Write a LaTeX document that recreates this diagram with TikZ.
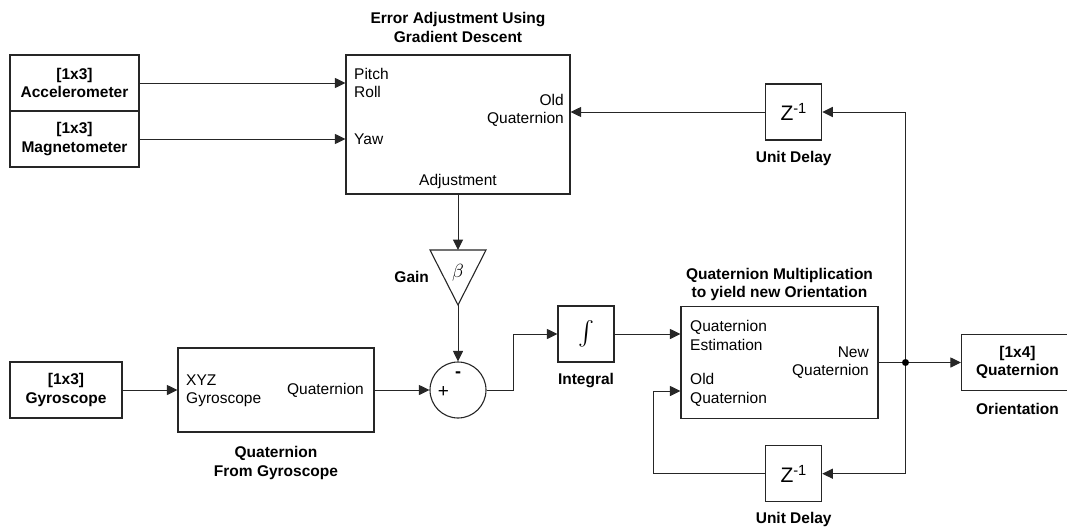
\documentclass[tikz,border=0pt]{standalone}
\usepackage{graphicx}
\usepackage{fontspec}
\setmainfont{Liberation Sans}
\usepackage{tikz}
\usetikzlibrary{shapes,arrows.meta,positioning}
\tikzstyle{block} = [draw=black!85, line width=1.1pt, rectangle, inner sep=0pt]
\tikzstyle{srcbox} = [block, align=center, font=\fontsize{15.5}{18.5}\selectfont\bfseries]
\tikzstyle{delay} = [block, minimum width=56pt, minimum height=56pt,
    font=\fontsize{21}{21}\selectfont]
\tikzstyle{port} = [inner sep=0pt, font=\fontsize{15.5}{18.5}\selectfont]
\tikzstyle{caption} = [inner sep=0pt, align=center, font=\fontsize{15.5}{18.5}\selectfont\bfseries]
\tikzstyle{wire} = [draw=black!85, line width=1pt, -{Triangle[length=10.5pt,width=10pt]}]
\tikzstyle{line} = [draw=black!85, line width=1pt]

\begin{document}
\begin{tikzpicture}[x=1pt, y=-1pt]
  \useasboundingbox (0,0) rectangle (1067,527);
  \node [srcbox, minimum width=129pt, minimum height=56pt] (acc) at (74.5,83) {[1x3]\\Accelerometer};
  \node [srcbox, minimum width=129pt, minimum height=56pt] (mag) at (74.5,139) {[1x3]\\Magnetometer};
  \node [block, minimum width=224pt, minimum height=139pt] (err) at (458,124.5) {};
  \node [caption, above=12pt of err] (errcap) {Error Adjustment Using\\Gradient Descent};
  \node [port, anchor=west, align=left] (pitch) at (354,83) {Pitch\\Roll};
  \node [port, anchor=west] (yaw) at (354,139) {Yaw};
  \node [port, anchor=east, align=right] (oldq) at (564,110.5) {Old\\Quaternion};
  \node [port] (adj) at (458,181.5) {Adjustment};
  \node [delay] (delayA) at (793.7,112) {Z\textsuperscript{-1}};
  \node [caption, below=11pt of delayA] (delayAcap) {Unit Delay};

  \coordinate (gtop) at (458,250);
  \coordinate (gtip) at (458,305);
  \draw [line, line width=1.1pt] (430,250) -- (486,250) -- (gtip) -- cycle;
  \node [inner sep=0pt] (beta) at (458,273) {\scalebox{1.9}{$\beta$}};
  \node [caption] (gaincap) at (411.7,277) {Gain};

  \node [srcbox, minimum width=112pt, minimum height=56pt] (gyro) at (66,390) {[1x3]\\Gyroscope};
  \node [block, minimum width=196pt, minimum height=84pt] (qgyro) at (276,390) {};
  \node [port, anchor=west, align=left] (xyz) at (186,391) {XYZ\\Gyroscope};
  \node [port, anchor=east] (qgyroout) at (364,390) {Quaternion};
  \node [caption, below=14pt of qgyro] (qgyrocap) {Quaternion\\From Gyroscope};

  \node [circle, draw=black!85, line width=1.1pt, minimum size=56pt, inner sep=0pt] (sum) at (458,390) {};
  \node [port, font=\fontsize{18}{18}\selectfont\bfseries] (minus) at (458,375) {-};
  \node [port, font=\fontsize{19}{19}\selectfont] (plus) at (443.5,392) {+};

  \node [block, minimum width=56pt, minimum height=56pt] (integ) at (586,334) {\scalebox{2.4}{$\int$}};
  \node [caption, below=11pt of integ] (integcap) {Integral};

  \node [block, minimum width=197pt, minimum height=112pt] (qmult) at (779.5,362.5) {};
  \node [caption, above=5pt of qmult] (qmultcap) {Quaternion Multiplication\\to yield new Orientation};
  \node [port, anchor=west, align=left] (est) at (690,335.5) {Quaternion\\Estimation};
  \node [port, anchor=west, align=left] (oldq2) at (690,390) {Old\\Quaternion};
  \node [port, anchor=east, align=right] (newq) at (869,362.5) {New\\Quaternion};

  \node [circle, fill=black, inner sep=0pt, minimum size=7pt] (junc) at (905.5,362.5) {};
  \node [srcbox, minimum width=112pt, minimum height=56pt] (out) at (1017.5,362.5) {[1x4]\\Quaternion};
  \node [caption, below=12pt of out] (outcap) {Orientation};

  \node [delay] (delayB) at (793.7,473.7) {Z\textsuperscript{-1}};
  \node [caption, below=10pt of delayB] (delayBcap) {Unit Delay};
  \coordinate (fb) at (653.6,391);

  \draw [wire] (acc.east) -- (acc.east -| err.west);
  \draw [wire] (mag.east) -- (mag.east -| err.west);
  \draw [wire] (err.south) -- (gtop);
  \draw [wire] (gtip) -- (sum.north);
  \draw [wire] (gyro) -- (qgyro);
  \draw [wire] (qgyro) -- (sum);
  \draw [wire] (sum.east) -- ++(27,0) |- (integ.west);
  \draw [wire] (integ.east) -- (integ.east -| qmult.west);
  \draw [line] (qmult.east) -- (junc);
  \draw [wire] (junc) -- (out.west);
  \draw [wire] (junc) |- (delayA.east);
  \draw [wire] (delayA.west) -- (delayA.west -| err.east);
  \draw [wire] (junc) |- (delayB.east);
  \draw [wire] (delayB.west) -| (fb) -- (fb -| qmult.west);
\end{tikzpicture}
\end{document}
